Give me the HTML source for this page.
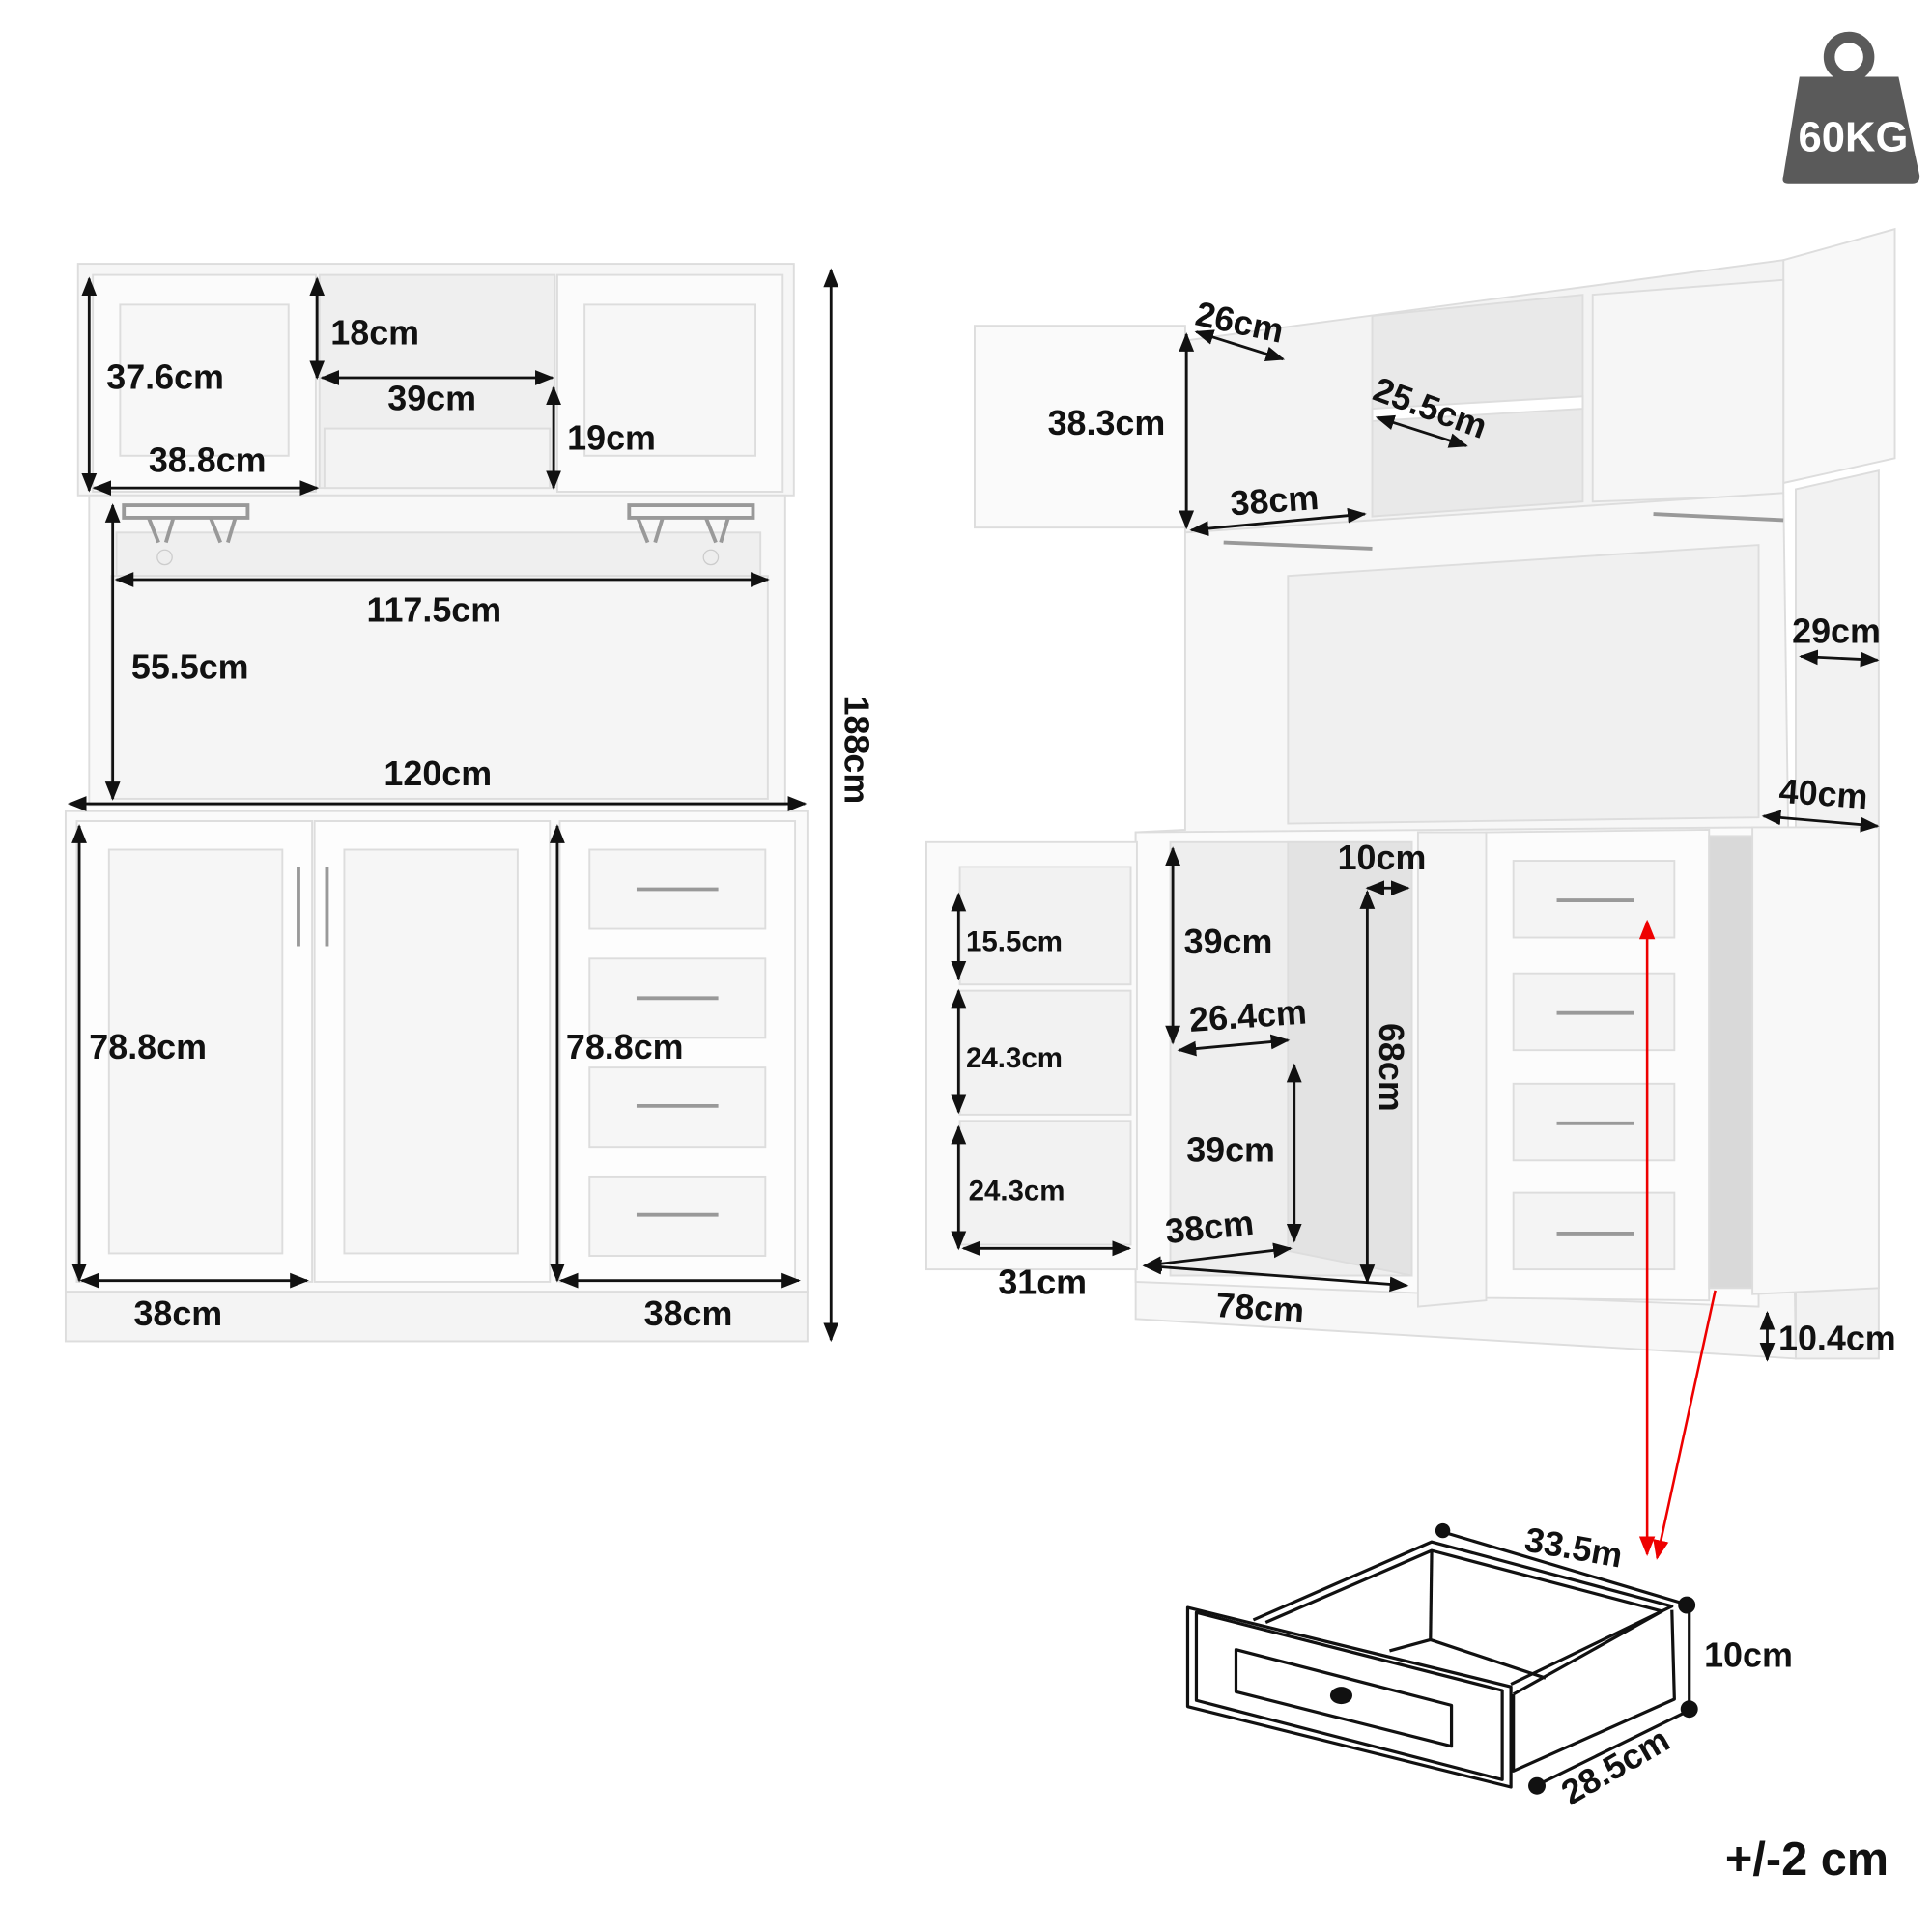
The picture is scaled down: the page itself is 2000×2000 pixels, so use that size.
<!DOCTYPE html>
<html><head><meta charset="utf-8"><style>
html,body{margin:0;padding:0;background:#fff}
svg{display:block}
text{font-family:"Liberation Sans","DejaVu Sans",sans-serif;font-weight:bold;fill:#111}
</style></head><body>
<svg width="2000" height="2000" viewBox="0 0 1560 1560" xmlns="http://www.w3.org/2000/svg">
<defs>
<marker id="a" viewBox="0 0 10 10" refX="9" refY="5" markerWidth="7" markerHeight="7" orient="auto-start-reverse"><path d="M0,1 L10,5 L0,9 z" fill="#111"/></marker>
<marker id="r" viewBox="0 0 10 10" refX="9" refY="5" markerWidth="8" markerHeight="8" orient="auto"><path d="M0,1 L10,5 L0,9 z" fill="#e00"/></marker>
</defs>
<rect width="1560" height="1560" fill="#fff"/>

<!-- ===== LEFT CABINET ===== -->
<g stroke="#ddd" stroke-width="1.5">
<rect x="63" y="213" width="578" height="187" fill="#f6f6f6"/>
<rect x="75" y="222" width="180" height="175" fill="#fbfbfb"/>
<rect x="97" y="246" width="136" height="122" fill="#f7f7f7"/>
<rect x="450" y="222" width="182" height="175" fill="#fbfbfb"/>
<rect x="472" y="246" width="138" height="122" fill="#f7f7f7"/>
<rect x="258" y="222" width="190" height="172" fill="#efefef"/>
<rect x="262" y="346" width="182" height="48" fill="#f3f3f3"/>
<rect x="72" y="400" width="562" height="250" fill="#f8f8f8"/>
<rect x="94" y="430" width="520" height="35" fill="#efefef"/>
<rect x="90" y="465" width="530" height="180" fill="#f5f5f5"/>
<rect x="53" y="655" width="599" height="388" fill="#fafafa"/>
<rect x="53" y="1043" width="599" height="40" fill="#f4f4f4"/>
<rect x="62" y="663" width="190" height="372" fill="#fdfdfd"/>
<rect x="88" y="686" width="140" height="326" fill="#f6f6f6"/>
<rect x="254" y="663" width="190" height="372" fill="#fdfdfd"/>
<rect x="278" y="686" width="140" height="326" fill="#f6f6f6"/>
<rect x="452" y="663" width="190" height="372" fill="#fdfdfd"/>
<rect x="476" y="686" width="142" height="64" fill="#f6f6f6"/>
<rect x="476" y="774" width="142" height="64" fill="#f6f6f6"/>
<rect x="476" y="862" width="142" height="64" fill="#f6f6f6"/>
<rect x="476" y="950" width="142" height="64" fill="#f6f6f6"/>
</g>
<g stroke="#999" stroke-width="3" fill="none">
<path d="M514,718 h66 M514,806 h66 M514,893 h66 M514,981 h66"/>
<path d="M241,700 v64 M264,700 v64"/>
<path d="M100,408 h100 v10 h-100z M508,408 h100 v10 h-100z"/>
<path d="M120,418 l8,20 M140,418 l-6,20 M170,418 l8,20 M190,418 l-6,20 M515,418 l8,20 M535,418 l-6,20 M570,418 l8,20 M588,418 l-6,20"/>
</g>
<circle cx="133" cy="450" r="6" fill="#eee" stroke="#ccc"/><circle cx="574" cy="450" r="6" fill="#eee" stroke="#ccc"/>

<g stroke="#111" stroke-width="2.2" fill="none" marker-start="url(#a)" marker-end="url(#a)">
<line x1="72" y1="225" x2="72" y2="396"/>
<line x1="76" y1="394" x2="256" y2="394"/>
<line x1="256" y1="225" x2="256" y2="305"/>
<line x1="260" y1="305" x2="446" y2="305"/>
<line x1="447" y1="313" x2="447" y2="394"/>
<line x1="94" y1="468" x2="620" y2="468"/>
<line x1="91" y1="408" x2="91" y2="645"/>
<line x1="56" y1="649" x2="650" y2="649"/>
<line x1="671" y1="218" x2="671" y2="1082"/>
<line x1="64" y1="667" x2="64" y2="1034"/>
<line x1="66" y1="1034" x2="248" y2="1034"/>
<line x1="450" y1="667" x2="450" y2="1034"/>
<line x1="453" y1="1034" x2="645" y2="1034"/>
</g>
<g font-size="28">
<text x="86" y="314">37.6cm</text>
<text x="120" y="381">38.8cm</text>
<text x="267" y="278">18cm</text>
<text x="313" y="331">39cm</text>
<text x="458" y="363">19cm</text>
<text x="296" y="502">117.5cm</text>
<text x="106" y="548">55.5cm</text>
<text x="310" y="634">120cm</text>
<text x="72" y="855">78.8cm</text>
<text x="457" y="855">78.8cm</text>
<text x="108" y="1070">38cm</text>
<text x="520" y="1070">38cm</text>
<text transform="translate(682,562) rotate(90)">188cm</text>
</g>

<!-- ===== WEIGHT ===== -->
<circle cx="1493" cy="46" r="16" fill="none" stroke="#5a5a5a" stroke-width="9"/>
<path d="M1453,62 L1533,62 L1550,142 Q1550,148 1544,148 L1444,148 Q1438,148 1440,142 z" fill="#5a5a5a"/>
<text x="1452" y="122" font-size="34" style="fill:#fff">60KG</text>

<!-- ===== RIGHT CABINET ===== -->
<g stroke="#ddd" stroke-width="1.5">
<polygon points="1440,210 1530,185 1530,370 1440,390" fill="#f8f8f8"/>
<polygon points="957,275 1440,210 1440,410 957,430" fill="#f3f3f3"/>
<polygon points="1108,255 1278,238 1278,405 1108,417" fill="#e9e9e9"/>
<polygon points="1286,238 1440,226 1440,400 1286,405" fill="#f6f6f6"/>
<polygon points="1108,330 1278,320 1278,330 1108,340" fill="#fff"/>
<rect x="787" y="263" width="170" height="163" fill="#fafafa"/>
<polygon points="957,430 1440,398 1450,1097 917,1065 917,672 957,670" fill="#f7f7f7"/>
<polygon points="1040,465 1420,440 1420,660 1040,665" fill="#f0f0f0"/>
<polygon points="1450,395 1517,380 1517,1097 1450,1097" fill="#f2f2f2"/>
<polygon points="917,672 1420,668 1420,1055 917,1035" fill="#fbfbfb"/>
<rect x="945" y="680" width="195" height="350" fill="#eeeeee"/>
<polygon points="1040,680 1140,680 1140,1030 1040,1010" fill="#e3e3e3"/>
<rect x="748" y="680" width="170" height="345" fill="#fafafa"/>
<rect x="775" y="700" width="138" height="95" fill="#f2f2f2"/>
<rect x="775" y="800" width="138" height="100" fill="#f2f2f2"/>
<rect x="775" y="905" width="138" height="100" fill="#f2f2f2"/>
<polygon points="1145,672 1200,672 1200,1050 1145,1055" fill="#f6f6f6"/>
<polygon points="1200,672 1380,670 1380,1050 1200,1048" fill="#fcfcfc"/>
<rect x="1222" y="695" width="130" height="62" fill="#f4f4f4"/>
<rect x="1222" y="786" width="130" height="62" fill="#f4f4f4"/>
<rect x="1222" y="875" width="130" height="62" fill="#f4f4f4"/>
<rect x="1222" y="963" width="130" height="62" fill="#f4f4f4"/>
<rect x="1380" y="675" width="35" height="365" fill="#d9d9d9"/>
<polygon points="1415,668 1517,668 1517,1040 1415,1045" fill="#f8f8f8"/>
</g>
<g stroke="#999" stroke-width="3" fill="none">
<path d="M1257,727 h62 M1257,818 h62 M1257,907 h62 M1257,996 h62"/>
<path d="M988,438 l120,5 M1335,415 l105,5"/>
</g>
<g stroke="#111" stroke-width="2.2" fill="none" marker-start="url(#a)" marker-end="url(#a)">
<line x1="966" y1="268" x2="1036" y2="290"/>
<line x1="958" y1="270" x2="958" y2="426"/>
<line x1="962" y1="428" x2="1102" y2="415"/>
<line x1="1112" y1="337" x2="1184" y2="360"/>
<line x1="1454" y1="530" x2="1516" y2="533"/>
<line x1="1424" y1="659" x2="1516" y2="667"/>
<line x1="1104" y1="717" x2="1137" y2="717"/>
<line x1="1104" y1="720" x2="1104" y2="1035"/>
<line x1="947" y1="685" x2="947" y2="842"/>
<line x1="952" y1="848" x2="1040" y2="840"/>
<line x1="1045" y1="860" x2="1045" y2="1002"/>
<line x1="924" y1="1022" x2="1042" y2="1008"/>
<line x1="924" y1="1022" x2="1136" y2="1038"/>
<line x1="774" y1="722" x2="774" y2="790"/>
<line x1="774" y1="800" x2="774" y2="898"/>
<line x1="774" y1="910" x2="774" y2="1008"/>
<line x1="778" y1="1008" x2="912" y2="1008"/>
<line x1="1427" y1="1060" x2="1427" y2="1098"/>
</g>
<g stroke="#e00" stroke-width="2">
<line x1="1330" y1="745" x2="1330" y2="1255" marker-end="url(#r)"/>
<line x1="1330" y1="745" x2="1330" y2="748" marker-end="url(#r)" transform="rotate(180 1330 746)"/>
<line x1="1385" y1="1042" x2="1338" y2="1258" marker-end="url(#r)"/>
</g>
<g font-size="28">
<text transform="translate(964,262) rotate(12)">26cm</text>
<text x="846" y="351">38.3cm</text>
<text transform="translate(1107,322) rotate(20)">25.5cm</text>
<text transform="translate(994,416) rotate(-4)">38cm</text>
<text x="1447" y="519">29cm</text>
<text transform="translate(1436,648) rotate(4)">40cm</text>
<text x="1080" y="702">10cm</text>
<text x="956" y="770">39cm</text>
<text transform="translate(961,833) rotate(-4)">26.4cm</text>
<text x="958" y="938">39cm</text>
<text transform="translate(942,1004) rotate(-6)">38cm</text>
<text x="806" y="1045">31cm</text>
<text transform="translate(981,1063) rotate(4)">78cm</text>
<text transform="translate(1114,826) rotate(90)">68cm</text>
<text x="1436" y="1090">10.4cm</text>
</g>
<g font-size="23">
<text x="780" y="768">15.5cm</text>
<text x="780" y="862">24.3cm</text>
<text x="782" y="969">24.3cm</text>
</g>

<!-- ===== DRAWER ===== -->
<g stroke="#111" stroke-width="2.5" fill="none" stroke-linejoin="round">
<polygon points="959,1298 1220,1362 1220,1443 959,1378"/>
<polygon points="966,1302 1213,1365 1213,1437 966,1373"/>
<polygon points="998,1332 1172,1377 1172,1410 998,1366"/>
<polyline points="1012,1308 1156,1245 1350,1297 1220,1360"/>
<polyline points="1022,1310 1156,1252 1342,1301 1222,1368"/>
<line x1="1156" y1="1252" x2="1155" y2="1324"/>
<polyline points="1122,1333 1155,1324 1248,1355"/>
<polyline points="1222,1368 1222,1430 1352,1372 1350,1300"/>
<line x1="1165" y1="1237" x2="1360" y2="1295"/>
<line x1="1364" y1="1297" x2="1364" y2="1380"/>
<line x1="1240" y1="1442" x2="1362" y2="1382"/>
</g>
<g fill="#111">
<ellipse cx="1083" cy="1369" rx="9" ry="7"/>
<circle cx="1165" cy="1236" r="6"/><circle cx="1362" cy="1296" r="7"/>
<circle cx="1364" cy="1380" r="7"/><circle cx="1241" cy="1442" r="7"/>
</g>
<g font-size="28">
<text transform="translate(1230,1252) rotate(10)">33.5m</text>
<text x="1376" y="1346">10cm</text>
<text transform="translate(1268,1458) rotate(-30)">28.5cm</text>
<text x="1393" y="1514" font-size="38">+/-2 cm</text>
</g>
</svg>
</body></html>
